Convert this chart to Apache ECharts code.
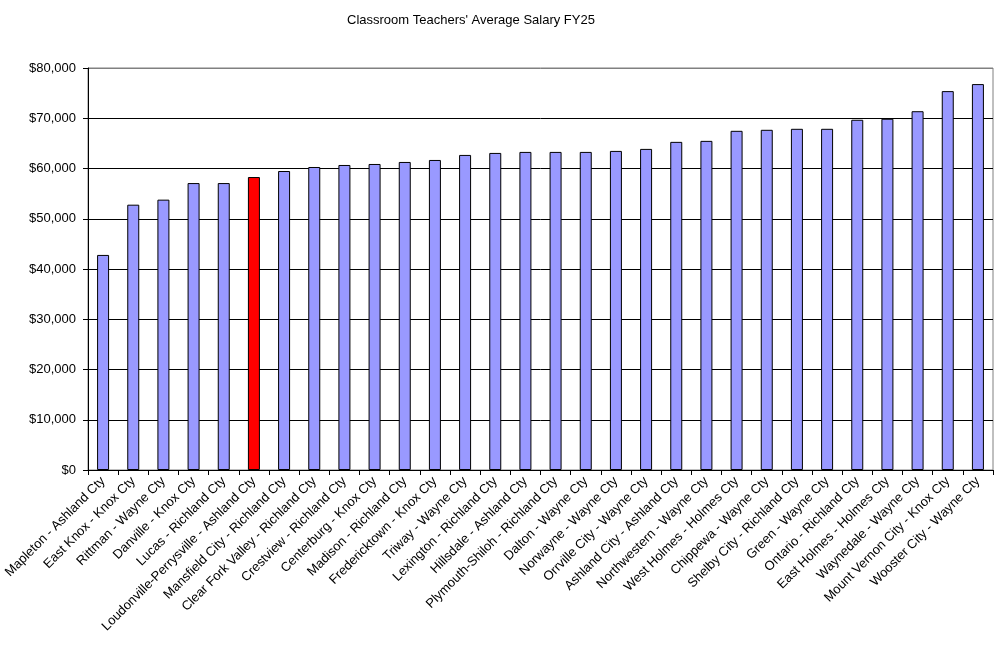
<!DOCTYPE html>
<html lang="en">
<head>
    <meta charset="UTF-8">
    <title>Classroom Teachers' Average Salary FY25</title>
    <script src="https://cdn.jsdelivr.net/npm/echarts@6/dist/echarts.min.js"></script>
    <style>
        html, body {
            margin: 0;
            padding: 0;
            background: #fff;
        }

        #chart {
            width: 1002px;
            height: 654px;
        }
    </style>
</head>
<body>
<div id="chart"></div>
<script>
    // districts, lowest to highest
    var districts = [
        'Mapleton - Ashland Cty', 'East Knox - Knox Cty', 'Rittman - Wayne Cty', 'Danville - Knox Cty',
        'Lucas - Richland Cty', 'Loudonville-Perrysville - Ashland Cty', 'Mansfield City - Richland Cty',
        'Clear Fork Valley - Richland Cty', 'Crestview - Richland Cty', 'Centerburg - Knox Cty',
        'Madison - Richland Cty', 'Fredericktown - Knox Cty', 'Triway - Wayne Cty', 'Lexington - Richland Cty',
        'Hillsdale - Ashland Cty', 'Plymouth-Shiloh - Richland Cty', 'Dalton - Wayne Cty', 'Norwayne - Wayne Cty',
        'Orrville City - Wayne Cty', 'Ashland City - Ashland Cty', 'Northwestern - Wayne Cty',
        'West Holmes - Holmes Cty', 'Chippewa - Wayne Cty', 'Shelby City - Richland Cty', 'Green - Wayne Cty',
        'Ontario - Richland Cty', 'East Holmes - Holmes Cty', 'Waynedale - Wayne Cty',
        'Mount Vernon City - Knox Cty', 'Wooster City - Wayne Cty'
    ];
    var salaries = [
        42800, 52800, 53800, 57100, 57100, 58300, 59500, 60300, 60700, 60900,
        61300, 61700, 62700, 63100, 63300, 63300, 63300, 63500, 63900, 65300,
        65500, 67500, 67700, 67900, 67900, 69700, 69900, 71400, 75400, 76800
    ];
    var highlighted = 'Loudonville-Perrysville - Ashland Cty';
    var yTicks = [0, 10000, 20000, 30000, 40000, 50000, 60000, 70000, 80000];

    var chart = echarts.init(document.getElementById('chart'));
    var font = 'Liberation Sans, Arial, sans-serif';

    var barData = [];
    for (var i = 0; i < salaries.length; ++i) {
        barData.push({
            value: salaries[i],
            itemStyle: {color: districts[i] === highlighted ? '#FF0000' : '#9999FF'}
        });
    }

    // last grid line sits on the grey top frame
    var splitColors = [];
    for (var j = 0; j < yTicks.length; ++j) {
        splitColors.push(j === yTicks.length - 1 ? '#808080' : '#000000');
    }

    chart.setOption({
        animation: false,
        backgroundColor: '#ffffff',
        textStyle: {fontFamily: font},
        title: {
            text: "Classroom Teachers' Average Salary FY25",
            left: 342,
            top: 9,
            textStyle: {fontFamily: font, fontSize: 13, fontWeight: 'normal', color: '#000'}
        },
        grid: {
            left: 88,
            right: 9,
            top: 68,
            bottom: 184,
            show: true,
            borderColor: '#808080',
            borderWidth: 1,
            outerBoundsMode: 'none'
        },
        xAxis: {
            type: 'category',
            data: districts,
            axisLine: {lineStyle: {color: '#000', width: 1}},
            axisTick: {show: true, length: 5, inside: false, lineStyle: {color: '#000'}},
            axisLabel: {
                interval: 0,
                rotate: 45,
                margin: 9,
                color: '#000',
                fontSize: 13,
                fontFamily: font
            }
        },
        yAxis: {
            type: 'value',
            min: yTicks[0],
            max: yTicks[yTicks.length - 1],
            interval: yTicks[1] - yTicks[0],
            axisLine: {show: true, lineStyle: {color: '#000', width: 1}},
            axisTick: {show: true, length: 5, lineStyle: {color: '#000'}},
            splitLine: {show: true, lineStyle: {color: splitColors, width: 1}},
            axisLabel: {
                color: '#000',
                fontSize: 13,
                fontFamily: font,
                margin: 12,
                formatter: function (v) {
                    return '$' + v.toString().replace(/\B(?=(\d{3})+(?!\d))/g, ',');
                }
            }
        },
        series: [{
            type: 'bar',
            data: barData,
            barWidth: 12,
            itemStyle: {borderColor: '#000', borderWidth: 1}
        }]
    });
</script>
</body>
</html>
